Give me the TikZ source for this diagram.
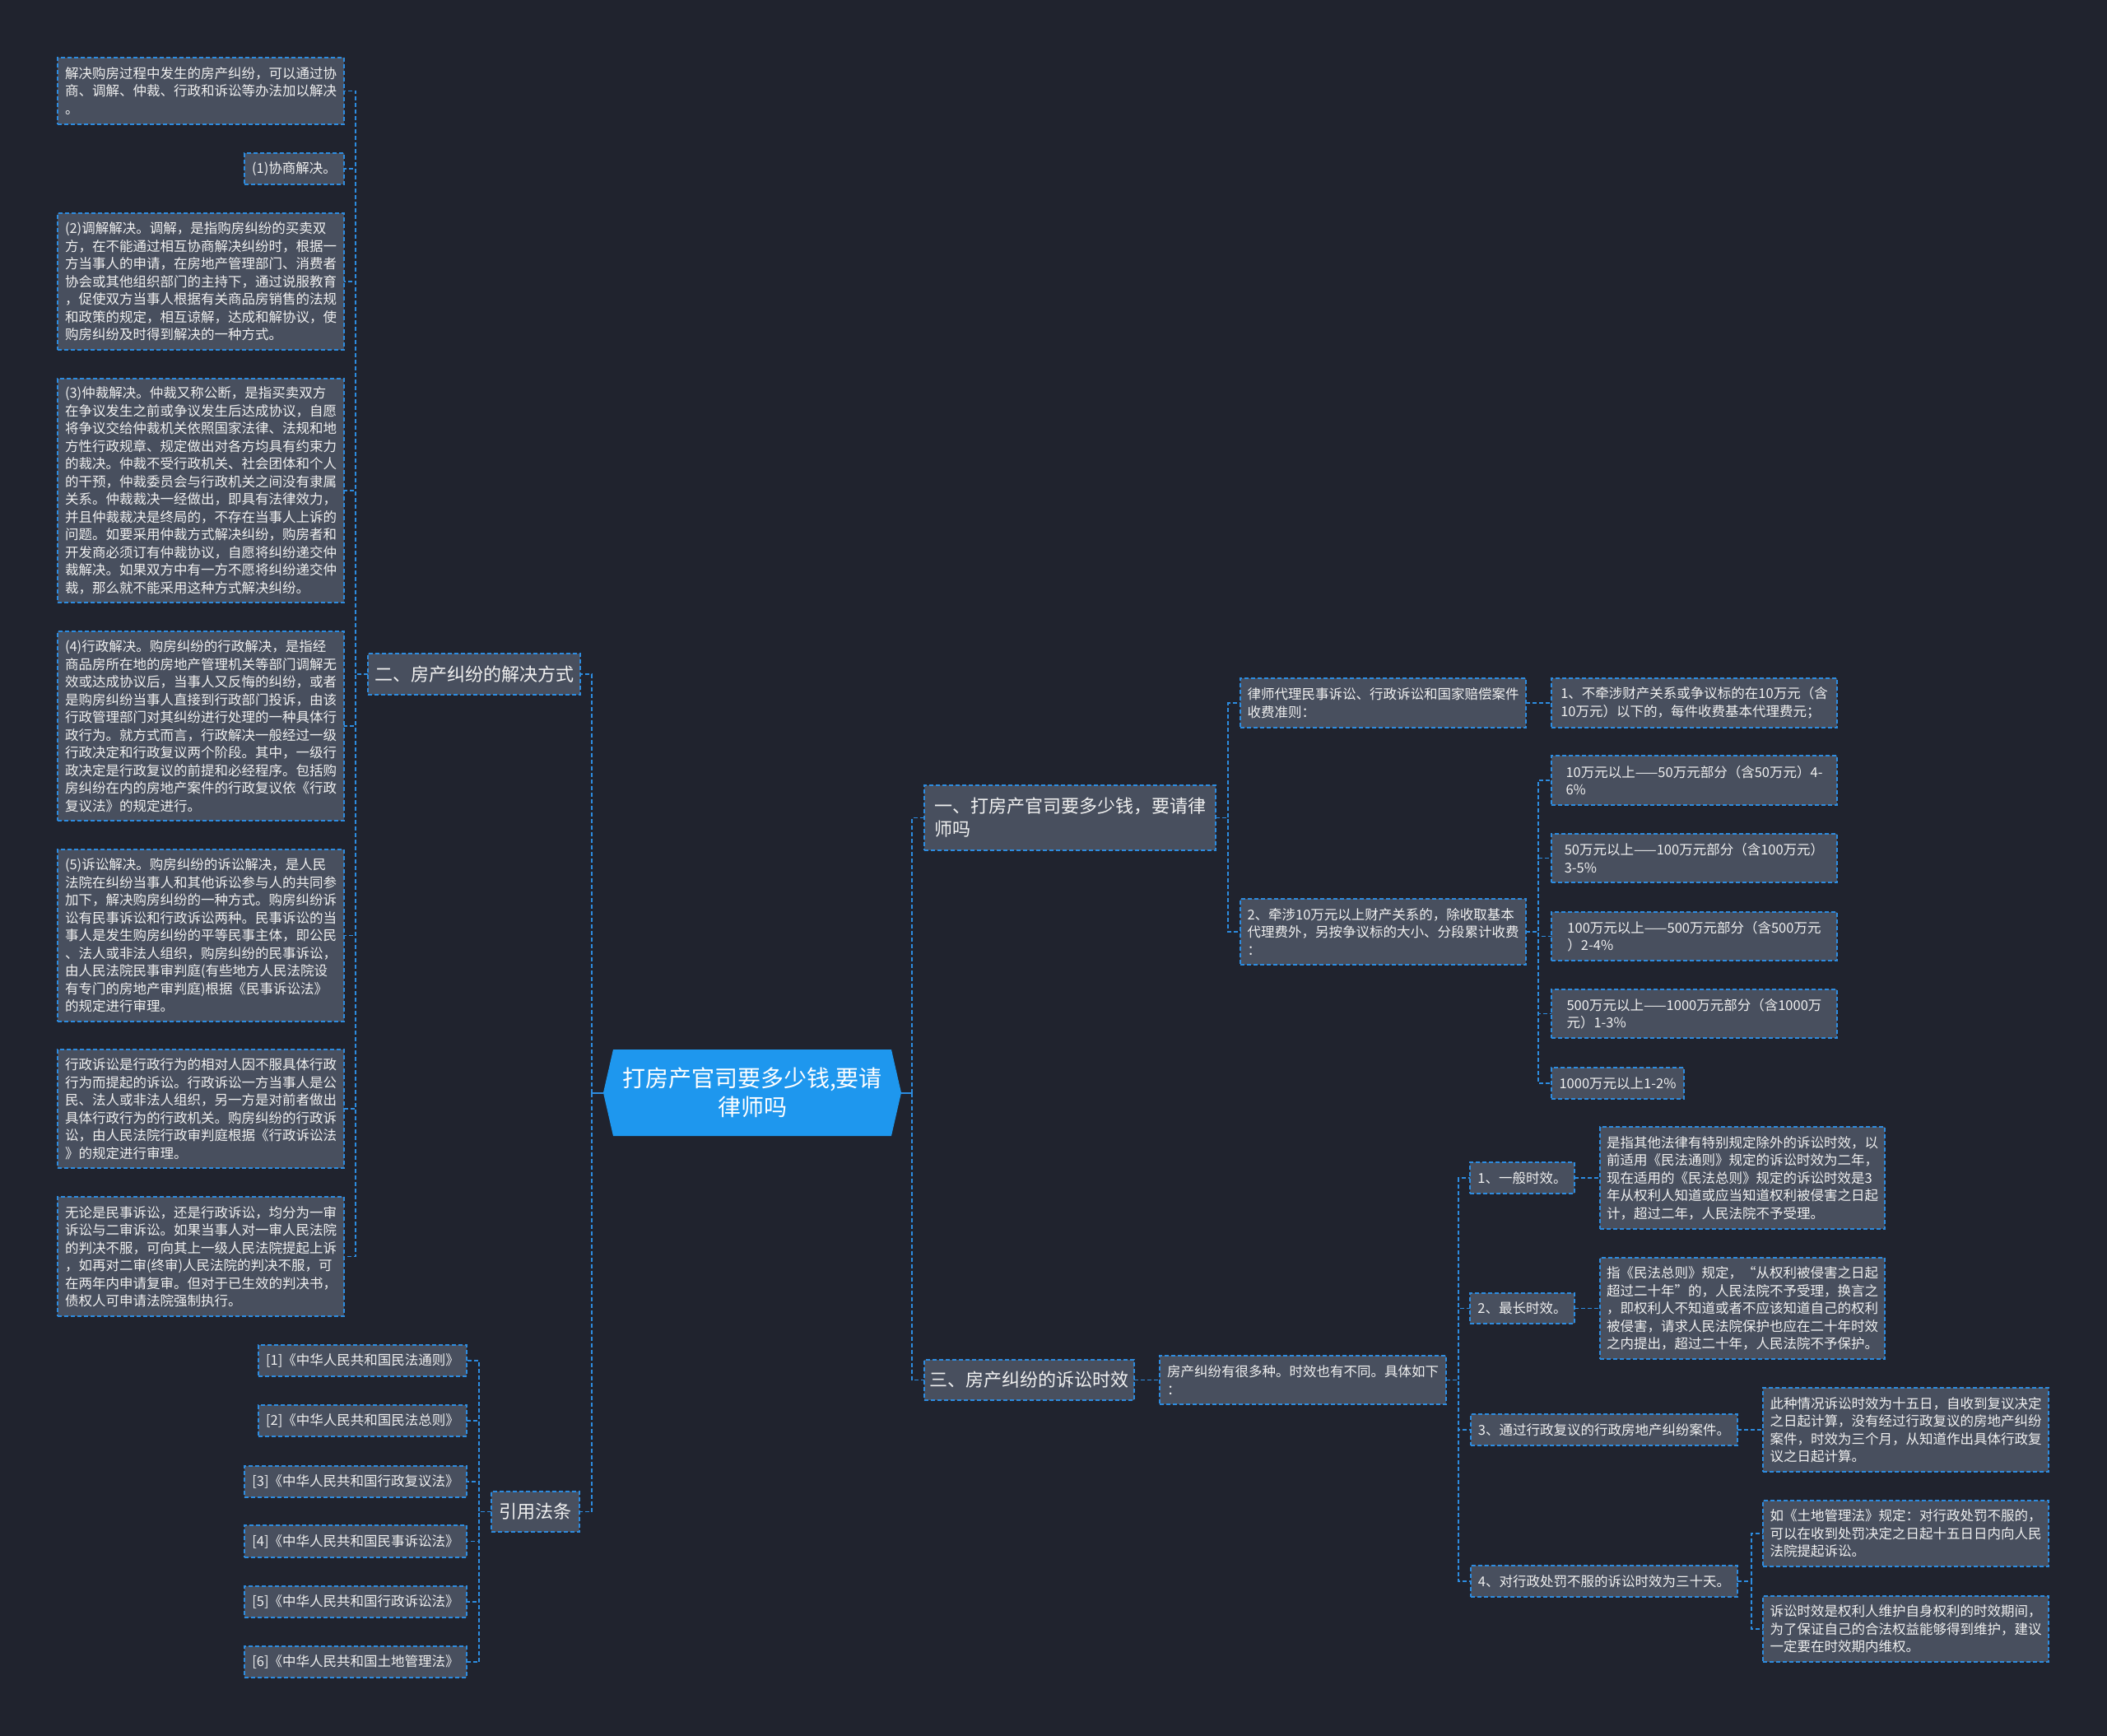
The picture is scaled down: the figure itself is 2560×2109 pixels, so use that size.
\documentclass[tikz,border=0pt]{standalone}
\usepackage{fontspec}
\setmainfont{Noto Sans CJK SC}
\usetikzlibrary{calc,backgrounds}
\definecolor{bgc}{HTML}{20232E}
\definecolor{boxc}{HTML}{484F5E}
\definecolor{linec}{HTML}{2D8CE0}
\definecolor{txtc}{HTML}{F0F0F0}
\definecolor{ctrc}{HTML}{1E97EE}
\tikzset{
  box/.style={draw=linec, fill=boxc, line width=1.6pt, dash pattern=on 5pt off 3pt,
    text=txtc, align=left, anchor=north west, inner sep=0pt, outer sep=0pt,
    font=\fontsize{16.5}{21.5}\selectfont},
  branch/.style={box, font=\fontsize{22}{28}\selectfont},
  conn/.style={draw=linec, line width=1.5pt, dash pattern=on 5pt off 3pt},
  stub/.style={draw=linec, line width=2pt},
}
\newcommand\bx[7][box]{\node[#1, minimum width=#5pt, minimum height=#6pt] (#2) at (#3,#4) {#7};}
\begin{document}
\begin{tikzpicture}[x=1pt,y=-1pt]
\useasboundingbox (0,0) rectangle (2560,2109);
% center
\node[minimum width=362pt, minimum height=105pt, inner sep=0pt, outer sep=0pt, text=white, align=center,
  font=\fontsize{28}{35}\selectfont] (c) at (914,1327.5) {打房产官司要多少钱,要请\\律师吗};
\begin{scope}[on background layer]
\fill[bgc] (0,0) rectangle (2560,2109);
\fill[ctrc] ($(c.north west)+(12,0)$) -- ($(c.north east)+(-12,0)$) -- (c.east) -- ($(c.south east)+(-12,0)$) -- ($(c.south west)+(12,0)$) -- (c.west) -- cycle;
\end{scope}
% left branch
\bx[branch]{er}{447}{794}{258}{50}{二、房产纠纷的解决方式}
\bx{l0}{70}{70}{348}{81}{解决购房过程中发生的房产纠纷，可以通过协\\商、调解、仲裁、行政和诉讼等办法加以解决\\。}
\bx{l1}{297}{186}{121}{38}{(1)协商解决。}
\bx{l2}{70}{259}{348}{166}{(2)调解解决。调解，是指购房纠纷的买卖双\\方，在不能通过相互协商解决纠纷时，根据一\\方当事人的申请，在房地产管理部门、消费者\\协会或其他组织部门的主持下，通过说服教育\\，促使双方当事人根据有关商品房销售的法规\\和政策的规定，相互谅解，达成和解协议，使\\购房纠纷及时得到解决的一种方式。}
\bx{l3}{70}{460}{348}{272}{(3)仲裁解决。仲裁又称公断，是指买卖双方\\在争议发生之前或争议发生后达成协议，自愿\\将争议交给仲裁机关依照国家法律、法规和地\\方性行政规章、规定做出对各方均具有约束力\\的裁决。仲裁不受行政机关、社会团体和个人\\的干预，仲裁委员会与行政机关之间没有隶属\\关系。仲裁裁决一经做出，即具有法律效力，\\并且仲裁裁决是终局的，不存在当事人上诉的\\问题。如要采用仲裁方式解决纠纷，购房者和\\开发商必须订有仲裁协议，自愿将纠纷递交仲\\裁解决。如果双方中有一方不愿将纠纷递交仲\\裁，那么就不能采用这种方式解决纠纷。}
\bx{l4}{70}{767}{348}{230}{(4)行政解决。购房纠纷的行政解决，是指经\\商品房所在地的房地产管理机关等部门调解无\\效或达成协议后，当事人又反悔的纠纷，或者\\是购房纠纷当事人直接到行政部门投诉，由该\\行政管理部门对其纠纷进行处理的一种具体行\\政行为。就方式而言，行政解决一般经过一级\\行政决定和行政复议两个阶段。其中，一级行\\政决定是行政复议的前提和必经程序。包括购\\房纠纷在内的房地产案件的行政复议依《行政\\复议法》的规定进行。}
\bx{l5}{70}{1032}{348}{209}{(5)诉讼解决。购房纠纷的诉讼解决，是人民\\法院在纠纷当事人和其他诉讼参与人的共同参\\加下，解决购房纠纷的一种方式。购房纠纷诉\\讼有民事诉讼和行政诉讼两种。民事诉讼的当\\事人是发生购房纠纷的平等民事主体，即公民\\、法人或非法人组织，购房纠纷的民事诉讼，\\由人民法院民事审判庭(有些地方人民法院设\\有专门的房地产审判庭)根据《民事诉讼法》\\的规定进行审理。}
\bx{l6}{70}{1275}{348}{144}{行政诉讼是行政行为的相对人因不服具体行政\\行为而提起的诉讼。行政诉讼一方当事人是公\\民、法人或非法人组织，另一方是对前者做出\\具体行政行为的行政机关。购房纠纷的行政诉\\讼，由人民法院行政审判庭根据《行政诉讼法\\》的规定进行审理。}
\bx{l7}{70}{1454}{348}{145}{无论是民事诉讼，还是行政诉讼，均分为一审\\诉讼与二审诉讼。如果当事人对一审人民法院\\的判决不服，可向其上一级人民法院提起上诉\\，如再对二审(终审)人民法院的判决不服，可\\在两年内申请复审。但对于已生效的判决书，\\债权人可申请法院强制执行。}
% references
\bx[branch]{yin}{597}{1812}{107}{49}{引用法条}
\bx{r1}{314}{1634}{253}{38}{[1]《中华人民共和国民法通则》}
\bx{r2}{314}{1707}{253}{38}{[2]《中华人民共和国民法总则》}
\bx{r3}{297}{1781}{270}{38}{[3]《中华人民共和国行政复议法》}
\bx{r4}{297}{1853}{270}{39}{[4]《中华人民共和国民事诉讼法》}
\bx{r5}{297}{1927}{270}{38}{[5]《中华人民共和国行政诉讼法》}
\bx{r6}{297}{2000}{270}{38}{[6]《中华人民共和国土地管理法》}
% right branch one
\bx[branch]{yi}{1123}{954}{354}{79}{一、打房产官司要多少钱，要请律\\师吗}
\bx{law}{1507}{824}{347}{60}{律师代理民事诉讼、行政诉讼和国家赔偿案件\\收费准则：}
\bx{f0}{1885}{824}{347}{60}{1、不牵涉财产关系或争议标的在10万元（含\\10万元）以下的，每件收费基本代理费元；}
\bx{two}{1507}{1092}{347}{80}{2、牵涉10万元以上财产关系的，除收取基本\\代理费外，另按争议标的大小、分段累计收费\\：}
\bx{f1}{1885}{918}{347}{60}{10万元以上——50万元部分（含50万元）4-\\6\%}
\bx{f2}{1885}{1013}{347}{59}{50万元以上——100万元部分（含100万元）\\3-5\%}
\bx{f3}{1885}{1108}{347}{59}{100万元以上——500万元部分（含500万元\\）2-4\%}
\bx{f4}{1885}{1202}{347}{59}{500万元以上——1000万元部分（含1000万\\元）1-3\%}
\bx{f5}{1885}{1297}{161}{38}{1000万元以上1-2\%}
% right branch three
\bx[branch]{san}{1123}{1652}{255}{49}{三、房产纠纷的诉讼时效}
\bx{many}{1409}{1647}{348}{59}{房产纠纷有很多种。时效也有不同。具体如下\\：}
\bx{t1}{1786}{1412}{127}{38}{1、一般时效。}
\bx{t1d}{1944}{1369}{346}{124}{是指其他法律有特别规定除外的诉讼时效，以\\前适用《民法通则》规定的诉讼时效为二年，\\现在适用的《民法总则》规定的诉讼时效是3\\年从权利人知道或应当知道权利被侵害之日起\\计，超过二年，人民法院不予受理。}
\bx{t2}{1786}{1571}{127}{37}{2、最长时效。}
\bx{t2d}{1944}{1528}{346}{123}{指《民法总则》规定，“从权利被侵害之日起\\超过二十年”的，人民法院不予受理，换言之\\，即权利人不知道或者不应该知道自己的权利\\被侵害，请求人民法院保护也应在二十年时效\\之内提出，超过二十年，人民法院不予保护。}
\bx{t3}{1787}{1718}{324}{38}{3、通过行政复议的行政房地产纠纷案件。}
\bx{t3d}{2142}{1686}{347}{102}{此种情况诉讼时效为十五日，自收到复议决定\\之日起计算，没有经过行政复议的房地产纠纷\\案件，时效为三个月，从知道作出具体行政复\\议之日起计算。}
\bx{t4}{1787}{1902}{324}{38}{4、对行政处罚不服的诉讼时效为三十天。}
\bx{t4a}{2142}{1823}{347}{80}{如《土地管理法》规定：对行政处罚不服的，\\可以在收到处罚决定之日起十五日日内向人民\\法院提起诉讼。}
\bx{t4b}{2142}{1939}{347}{80}{诉讼时效是权利人维护自身权利的时效期间，\\为了保证自己的合法权益能够得到维护，建议\\一定要在时效期内维权。}
% connectors
\draw[stub] (c.west) -- ++(-14,0);
\draw[stub] (c.east) -- ++(13,0);
\foreach \n in {er,yin} \draw[conn] (c.west) ++(-14,0) |- (\n.east);
\foreach \n in {yi,san} \draw[conn] (c.east) ++(13,0) |- (\n.west);
\foreach \n in {l0,l1,l2,l3,l4,l5,l6,l7} \draw[conn] (er.west) -- ++(-15,0) |- (\n.east);
\foreach \n in {r1,r2,r3,r4,r5,r6} \draw[conn] (yin.west) -- ++(-15,0) |- (\n.east);
\foreach \n in {law,two} \draw[conn] (yi.east) -- ++(15,0) |- (\n.west);
\draw[conn] (law.east) -- (f0.west);
\foreach \n in {f1,f2,f3,f4,f5} \draw[conn] (two.east) -- ++(15,0) |- (\n.west);
\draw[conn] (san.east) -- (many.west);
\foreach \n in {t1,t2,t3,t4} \draw[conn] (many.east) -- ++(15,0) |- (\n.west);
\draw[conn] (t1.east) -- (t1d.west);
\draw[conn] (t2.east) -- (t2d.west);
\draw[conn] (t3.east) -- (t3d.west);
\foreach \n in {t4a,t4b} \draw[conn] (t4.east) -- ++(17,0) |- (\n.west);
\end{tikzpicture}
\end{document}
